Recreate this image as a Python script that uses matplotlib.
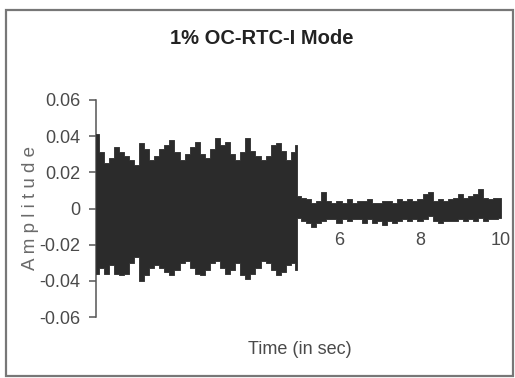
import matplotlib
matplotlib.use('Agg')
import matplotlib.pyplot as plt
from matplotlib import font_manager as fm
from matplotlib.patches import Rectangle

t = [0.0, 0.125, 0.25, 0.375, 0.5, 0.625, 0.75, 0.875, 1.0, 1.125,
     1.25, 1.375, 1.5, 1.625, 1.75, 1.875, 2.0, 2.125, 2.25, 2.375,
     2.5, 2.625, 2.75, 2.875, 3.0, 3.125, 3.25, 3.375, 3.5, 3.625,
     3.75, 3.875, 4.0, 4.125, 4.25, 4.375, 4.5, 4.625, 4.75, 4.875,
     4.95,
     5.0, 5.125, 5.25, 5.375, 5.5, 5.625, 5.75, 5.875, 6.0, 6.125,
     6.25, 6.375, 6.5, 6.625, 6.75, 6.875, 7.0, 7.125, 7.25, 7.375,
     7.5, 7.625, 7.75, 7.875, 8.0, 8.125, 8.25, 8.375, 8.5, 8.625,
     8.75, 8.875, 9.0, 9.125, 9.25, 9.375, 9.5, 9.625, 9.75, 9.875,
     10.0]
upper = [0.041, 0.031, 0.025, 0.028, 0.034, 0.031, 0.029, 0.027, 0.024, 0.036,
         0.033, 0.027, 0.029, 0.033, 0.035, 0.038, 0.031, 0.027, 0.030, 0.034,
         0.037, 0.030, 0.028, 0.033, 0.039, 0.035, 0.037, 0.030, 0.027, 0.031,
         0.039, 0.032, 0.029, 0.027, 0.029, 0.035, 0.036, 0.032, 0.027, 0.031,
         0.035,
         0.007, 0.006, 0.005, 0.003, 0.004, 0.009, 0.004, 0.003, 0.004, 0.003,
         0.005, 0.003, 0.004, 0.004, 0.005, 0.003, 0.003, 0.004, 0.004, 0.003,
         0.005, 0.004, 0.005, 0.004, 0.005, 0.008, 0.009, 0.004, 0.005, 0.004,
         0.005, 0.006, 0.008, 0.006, 0.007, 0.008, 0.011, 0.006, 0.005, 0.006,
         0.006]
lower = [-0.036, -0.033, -0.036, -0.031, -0.036, -0.037, -0.036, -0.030, -0.027, -0.040,
         -0.037, -0.033, -0.031, -0.033, -0.035, -0.037, -0.034, -0.030, -0.029, -0.033,
         -0.036, -0.037, -0.034, -0.030, -0.029, -0.033, -0.036, -0.034, -0.030, -0.037,
         -0.039, -0.036, -0.033, -0.029, -0.030, -0.034, -0.037, -0.035, -0.031, -0.030,
         -0.034,
         -0.005, -0.007, -0.008, -0.010, -0.008, -0.007, -0.006, -0.006, -0.008, -0.006,
         -0.007, -0.006, -0.006, -0.008, -0.006, -0.008, -0.007, -0.009, -0.007, -0.008,
         -0.007, -0.006, -0.007, -0.006, -0.007, -0.006, -0.004, -0.007, -0.008, -0.007,
         -0.007, -0.007, -0.006, -0.007, -0.006, -0.007, -0.005, -0.007, -0.006, -0.006,
         -0.005]

yticks = [0.06, 0.04, 0.02, 0, -0.02, -0.04, -0.06]
ytick_labels = ['0.06', '0.04', '0.02', '0', '-0.02', '-0.04', '-0.06']
xticks = [6, 8, 10]

names = {f.name for f in fm.fontManager.ttflist}
narrow = 'Liberation Sans Narrow' if 'Liberation Sans Narrow' in names else 'Liberation Sans'
print('narrow font:', narrow)
plt.rcParams['font.family'] = ['Liberation Sans', 'DejaVu Sans']

fig = plt.figure(figsize=(5.15, 3.78), dpi=100)
ax = fig.add_axes([96 / 515, 61 / 378, 405 / 515, 217 / 378])

ax.fill_between(t, lower, upper, step='mid', color='#2b2b2b', lw=0.6,
                edgecolor='#2b2b2b', zorder=3)

ax.set_xlim(0, 10)
ax.set_ylim(-0.06, 0.06)
ax.set_yticks(yticks)
ax.set_yticklabels(ytick_labels, family=narrow)
ax.set_xticks(xticks)
ax.set_xticklabels([str(v) for v in xticks], family=narrow)

for s in ['top', 'right']:
    ax.spines[s].set_visible(False)
ax.spines['bottom'].set_position(('data', 0))
ax.spines['bottom'].set_visible(False)
ax.spines['left'].set_color('#555555')
ax.spines['left'].set_linewidth(1.1)
ax.tick_params(axis='y', direction='out', length=5, width=1.1, color='#555555',
               labelsize=13, labelcolor='#4a4a4a', pad=6)
ax.tick_params(axis='x', length=0, labelsize=13, labelcolor='#4a4a4a', pad=17)

ax.set_ylabel('A m p l i t u d e', fontsize=13.5, color='#6a6a6a', family=narrow)
ax.yaxis.set_label_coords(-0.14, 0.5)
ax.set_xlabel('Time (in sec)', fontsize=13, color='#4a4a4a', family=narrow)
ax.xaxis.set_label_coords(0.504, -0.11)

fig.text(262 / 515, 1 - 39 / 378, '1% OC-RTC-I Mode', ha='center', va='center',
         fontsize=14.5, fontweight='bold', color='#222222')

fig.patches.append(Rectangle((6 / 515, 2 / 378), 507 / 515, 366 / 378,
                             transform=fig.transFigure, fill=False,
                             edgecolor='#777777', lw=1.6))

fig.savefig('out.png', dpi=100)
